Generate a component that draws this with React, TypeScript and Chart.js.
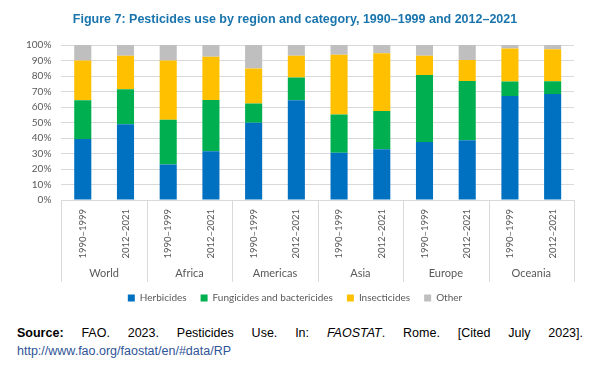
import React, { useEffect, useRef } from 'react';
import { Chart, registerables } from 'chart.js';

Chart.register(...registerables);

const regions = ['World', 'Africa', 'Americas', 'Asia', 'Europe', 'Oceania'];
const periods = ['1990–1999', '2012–2021'];
const yTicks = [0, 10, 20, 30, 40, 50, 60, 70, 80, 90, 100];

const herbicides = [39.4, 48.9, 22.9, 31.4, 49.8, 64.3, 30.5, 32.7, 37.4, 38.5, 67.1, 68.4];
const fungicides = [24.9, 22.5, 28.8, 33.1, 12.5, 14.7, 24.7, 24.7, 43.3, 38.3, 9.3, 8.2];
const insecticides = [25.7, 21.7, 38.3, 27.9, 22.5, 14.1, 38.5, 37.2, 12.4, 13.5, 21.4, 20.6];
const other = [10.0, 6.9, 10.0, 7.6, 15.2, 6.9, 6.3, 5.4, 6.9, 9.7, 2.2, 2.8];

const seriesNames = ['Herbicides', 'Fungicides and bactericides', 'Insecticides', 'Other'];
const seriesColors = ['#0070C0', '#00B050', '#FFC000', '#BFBFBF'];

const titleText = 'Figure 7: Pesticides use by region and category, 1990–1999 and 2012–2021';

const GRID = '#d9d9d9';
const TEXT = '#595959';

const groupSeparators = {
  id: 'groupSeparators',
  afterDraw(chart: any) {
    const x = chart.scales.x;
    const x2 = chart.scales.x2;
    const { left, right, bottom } = chart.chartArea;
    const ctx = chart.ctx;
    ctx.save();
    ctx.strokeStyle = GRID;
    ctx.lineWidth = 1;
    for (let g = 0; g <= regions.length; g++) {
      let px: number;
      if (g === 0) px = left;
      else if (g === regions.length) px = right;
      else px = (x.getPixelForValue(g * 2 - 1) + x.getPixelForValue(g * 2)) / 2;
      const xx = Math.round(px) + 0.5;
      ctx.beginPath();
      ctx.moveTo(xx, bottom);
      ctx.lineTo(xx, x2.bottom + 3);
      ctx.stroke();
    }
    ctx.restore();
  },
};

export default function App() {
  const ref = useRef<HTMLCanvasElement | null>(null);

  useEffect(() => {
    if (!ref.current) return;
    const labels = regions.flatMap(() => periods);
    const data = [herbicides, fungicides, insecticides, other];
    const chart = new Chart(ref.current, {
      type: 'bar',
      data: {
        labels,
        datasets: data.map((d, i) => ({
          label: seriesNames[i],
          data: d,
          backgroundColor: seriesColors[i],
          borderWidth: 0,
          categoryPercentage: 1,
          barPercentage: 0.4,
        })),
      },
      options: {
        animation: false,
        responsive: false,
        layout: { padding: { left: 16, right: 23, top: 0, bottom: 0 } },
        plugins: {
          title: {
            display: true,
            text: titleText,
            color: '#1B75AD',
            font: { family: 'Liberation Sans', size: 12.5, weight: 'bold' },
            padding: { top: 12, bottom: 18 },
          },
          legend: {
            display: true,
            position: 'bottom',
            labels: {
              boxWidth: 7,
              boxHeight: 7,
              padding: 14,
              color: TEXT,
              font: { family: 'Lato', size: 10 },
            },
          },
          tooltip: { enabled: false },
        },
        scales: {
          x: {
            stacked: true,
            grid: { display: false, drawTicks: false },
            border: { display: true, color: GRID },
            afterFit: (s: any) => {
              s.height = 60;
            },
            ticks: {
              minRotation: 90,
              maxRotation: 90,
              autoSkip: false,
              padding: 9,
              color: TEXT,
              font: { family: 'Lato', size: 9.5 },
            },
          },
          x2: {
            type: 'category',
            labels: regions,
            position: 'bottom',
            offset: true,
            grid: { display: false, drawTicks: false },
            border: { display: false },
            afterFit: (s: any) => {
              s.height = 19;
            },
            ticks: {
              padding: 7,
              autoSkip: false,
              maxRotation: 0,
              color: TEXT,
              font: { family: 'Lato', size: 11 },
            },
          },
          y: {
            stacked: true,
            min: 0,
            max: 100,
            afterBuildTicks: (axis: any) => {
              axis.ticks = yTicks.map((v) => ({ value: v }));
            },
            grid: { color: GRID, drawTicks: false },
            border: { display: false },
            ticks: {
              autoSkip: false,
              padding: 10,
              color: TEXT,
              font: { family: 'Lato', size: 10 },
              callback: (v: any) => v + '%',
            },
          },
        },
      },
      plugins: [groupSeparators],
    });
    return () => chart.destroy();
  }, []);

  return (
    <div style={{ position: 'fixed', left: 0, top: 0, width: 597, height: 369, background: '#fff' }}>
      <canvas ref={ref} width={597} height={313} style={{ position: 'absolute', left: 0, top: 0, width: 597, height: 313 }} />
      <div
        style={{
          position: 'absolute',
          left: 17,
          top: 324,
          width: 566,
          fontFamily: 'Liberation Sans, Arial, sans-serif',
          fontSize: 12.5,
          lineHeight: '18px',
          textAlign: 'justify',
          color: '#000',
        }}
      >
        <b>Source:</b> FAO. 2023. Pesticides Use. In: <i>FAOSTAT</i>. Rome. [Cited July 2023].{' '}
        <span style={{ color: '#2F5597' }}>http://www.fao.org/faostat/en/#data/RP</span>
      </div>
    </div>
  );
}
